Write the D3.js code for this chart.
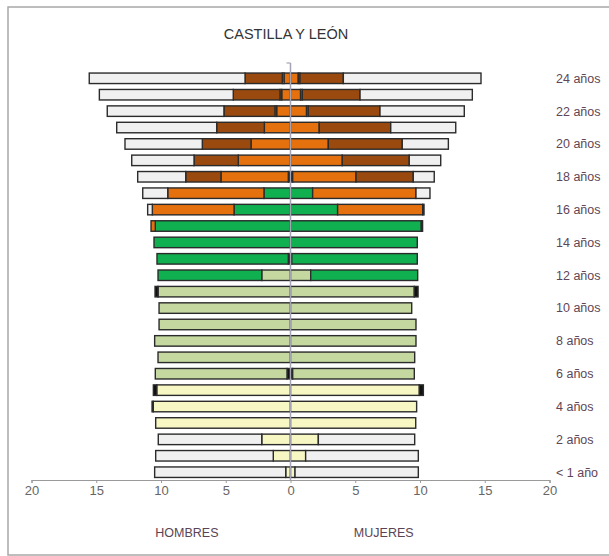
<!DOCTYPE html>
<html>
<head>
<meta charset="utf-8">
<script src="https://cdn.jsdelivr.net/npm/d3@7"></script>
<style>
  html, body { margin: 0; padding: 0; background: #fff; }
  svg { display: block; font-family: "Liberation Sans", Arial, sans-serif; }
</style>
</head>
<body>
<svg id="chart" width="609" height="556"></svg>
<script>
// ---- DATA (index = age in years, 0 = "< 1 año") ----
const ages = d3.range(0, 25);
const ageTickValues = [0, 2, 4, 6, 8, 10, 12, 14, 16, 18, 20, 22, 24];
const ageTickLabels = ["< 1 año", "2 años", "4 años", "6 años", "8 años", "10 años", "12 años",
                       "14 años", "16 años", "18 años", "20 años", "22 años", "24 años"];
const xTickValues = [-20, -15, -10, -5, 0, 5, 10, 15, 20];

const seriesKeys = ["espIn", "infantil", "primaria", "eso", "bach", "fp", "univ", "espOut", "noEsc"];
const seriesColors = ["#111111", "#f7f7c4", "#c4d8a0", "#10b050", "#e4700e", "#e4700e", "#9a4a0e", "#111111", "#f0f0f0"];

// HOMBRES
const menEspIn    = [0,0,0,0,0,0,0.27,0,0,0,0,0,0,0.17,0,0,0,0,0.17,0,0,0,0,0,0];
const menInfantil = [0.37,1.33,2.22,10.41,10.6,10.33,0,0,0,0,0,0,0,0,0,0,0,0,0,0,0,0,0,0,0];
const menPrimaria = [0,0,0,0,0,0,10.17,10.23,10.49,10.15,10.15,10.23,2.22,0,0,0,0,0,0,0,0,0,0,0,0];
const menEso      = [0,0,0,0,0,0,0,0,0,0,0,0,8.01,10.14,10.54,10.44,4.36,2.05,0,0,0,0,0,0,0];
const menBach     = [0,0,0,0,0,0,0,0,0,0,0,0,0,0,0,0.33,6.31,7.43,5.2,4.03,3.05,2.02,1.07,0.68,0.5];
const menFp       = [0,0,0,0,0,0,0,0,0,0,0,0,0,0,0,0,0,0,0,0,0,0,0.13,0.13,0.13];
const menUniv     = [0,0,0,0,0,0,0,0,0,0,0,0,0,0,0,0,0,0,2.72,3.42,3.76,3.68,3.94,3.61,2.88];
const menEspOut   = [0,0,0,0,0.09,0.26,0,0,0,0,0,0.23,0,0,0,0,0,0,0,0,0,0,0,0,0];
const menNoEsc    = [10.12,9.08,7.99,0,0,0,0,0,0,0,0,0,0,0,0,0,0.36,1.93,3.71,4.81,5.97,7.72,9.01,10.34,12.03];

// MUJERES
const womenEspIn    = [0,0,0,0,0,0,0.17,0,0,0,0,0,0,0.1,0,0,0,0,0.17,0,0,0,0,0,0];
const womenInfantil = [0.35,1.17,2.15,9.67,9.74,9.95,0,0,0,0,0,0,0,0,0,0,0,0,0,0,0,0,0,0,0];
const womenPrimaria = [0,0,0,0,0,0,9.39,9.59,9.69,9.69,9.36,9.56,1.56,0,0,0,0,0,0,0,0,0,0,0,0];
const womenEso      = [0,0,0,0,0,0,0,0,0,0,0,0,8.26,9.69,9.79,10.1,3.64,1.71,0,0,0,0,0,0,0];
const womenBach     = [0,0,0,0,0,0,0,0,0,0,0,0,0,0,0,0,6.57,7.98,4.89,4.0,2.92,2.22,1.24,0.78,0.6];
const womenFp       = [0,0,0,0,0,0,0,0,0,0,0,0,0,0,0,0,0,0,0,0,0,0,0.13,0.13,0.13];
const womenUniv     = [0,0,0,0,0,0,0,0,0,0,0,0,0,0,0,0,0,0,4.42,5.17,5.71,5.52,5.54,4.46,3.35];
const womenEspOut   = [0,0,0,0,0,0.31,0,0,0,0,0,0.29,0,0,0,0.1,0.1,0,0,0,0,0,0,0,0];
const womenNoEsc    = [9.52,8.7,7.44,0,0,0,0,0,0,0,0,0,0,0,0,0,0,1.08,1.62,2.43,3.56,5.02,6.51,8.67,10.63];

// ---- build tables ----
const menSeries = [menEspIn, menInfantil, menPrimaria, menEso, menBach, menFp, menUniv, menEspOut, menNoEsc];
const womenSeries = [womenEspIn, womenInfantil, womenPrimaria, womenEso, womenBach, womenFp, womenUniv, womenEspOut, womenNoEsc];
function toTable(seriesArr) {
  return ages.map(a => {
    const row = { age: a };
    seriesKeys.forEach((k, i) => row[k] = seriesArr[i][a]);
    return row;
  });
}
const stack = d3.stack().keys(seriesKeys);
const menStack = stack(toTable(menSeries));
const womenStack = stack(toTable(womenSeries));
const color = d3.scaleOrdinal().domain(seriesKeys).range(seriesColors);

// ---- scales ----
const svg = d3.select("#chart");
const x = d3.scaleLinear().domain([-20, 20]).range([31.5, 549.5]);
const y = d3.scalePoint().domain(ages.slice().reverse()).range([78.3, 472.2]);
const barH = 10.5;

// frame
svg.append("rect")
  .attr("x", 8).attr("y", 7).attr("width", 620).attr("height", 548)
  .attr("fill", "none").attr("stroke", "#a8a8a8").attr("stroke-width", 1.5);

// title
svg.append("text")
  .attr("x", 286).attr("y", 39).attr("text-anchor", "middle")
  .attr("font-size", 14.5).attr("fill", "#333")
  .text("CASTILLA Y LEÓN");

// bars
function drawSide(stacked, sign) {
  const g = svg.append("g");
  stacked.forEach(layer => {
    g.selectAll(null)
      .data(layer.filter(d => d[1] - d[0] > 0))
      .join("rect")
      .attr("x", d => sign < 0 ? x(-d[1]) : x(d[0]))
      .attr("width", d => Math.abs(x(d[1]) - x(d[0])))
      .attr("y", d => y(d.data.age) - barH / 2)
      .attr("height", barH)
      .attr("fill", color(layer.key))
      .attr("stroke", "#2b2b2b")
      .attr("stroke-width", 1.4);
  });
}
drawSide(menStack, -1);
drawSide(womenStack, 1);

// x axis
const xAxis = svg.append("g")
  .attr("transform", "translate(0,480)")
  .call(d3.axisBottom(x).tickValues(xTickValues).tickFormat(d => Math.abs(d)).tickSize(3));
xAxis.select(".domain").attr("stroke", "#9a9a9a").attr("stroke-width", 1.2);
xAxis.selectAll(".tick line").attr("stroke", "#9a9a9a");
xAxis.selectAll(".tick text").attr("font-size", 13).attr("fill", "#666")
  .attr("font-family", "'Liberation Sans', Arial, sans-serif");

// central category axis (drawn over bars)
svg.append("line")
  .attr("x1", x(0)).attr("x2", x(0)).attr("y1", 63).attr("y2", 480)
  .attr("stroke", "#a4a4b4").attr("stroke-width", 1.5);
svg.append("line")
  .attr("x1", x(0) - 4).attr("x2", x(0)).attr("y1", 63).attr("y2", 63)
  .attr("stroke", "#a4a4b4").attr("stroke-width", 1.2);

// age labels
svg.append("g").selectAll("text")
  .data(ageTickValues)
  .join("text")
  .attr("x", 556)
  .attr("y", d => y(d))
  .attr("dy", "0.35em")
  .attr("font-size", 12.5)
  .attr("fill", "#5e4656")
  .text((d, i) => ageTickLabels[i]);

// sex labels
svg.append("text").attr("x", x(-8)).attr("y", 537).attr("text-anchor", "middle")
  .attr("font-size", 12.5).attr("fill", "#5a4454").text("HOMBRES");
svg.append("text").attr("x", x(7.2)).attr("y", 537).attr("text-anchor", "middle")
  .attr("font-size", 12.5).attr("fill", "#5a4454").text("MUJERES");
</script>
</body>
</html>
